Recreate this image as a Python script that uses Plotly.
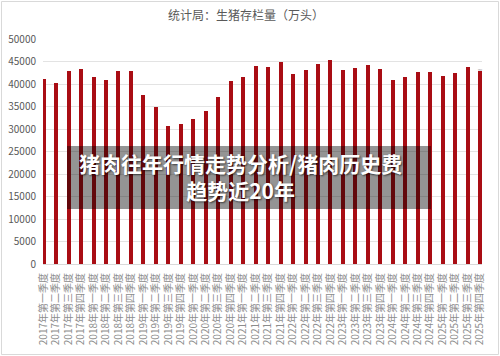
import plotly.graph_objects as go

years = ["2017", "2018", "2019", "2020", "2021", "2022", "2023", "2024", "2025"]
quarters = ["第一季度", "第二季度", "第三季度", "第四季度"]
categories = [f"{y}年{q}" for y in years for q in quarters]

values = [
    41050, 40300, 42820, 43325,
    41480, 40890, 42820, 42817,
    37560, 34810, 30679, 31041,
    32120, 34000, 37039, 40650,
    41595, 43911, 43764, 44922,
    42253, 43057, 44394, 45256,
    43094, 43517, 44229, 43422,
    40850, 41533, 42582, 42743,
    41731, 42447, 43680, 42967,
]

y_ticks = list(range(0, 50001, 5000))
y_ticklabels = [str(v) for v in y_ticks]

title_text = "统计局：生猪存栏量（万头）"
overlay_text = "猪肉往年行情走势分析/猪肉历史费<br>趋势近20年"

FONT = "Noto Sans CJK SC"
L, R, T, B = 43, 18, 39, 92
W, H = 500, 356
pw, ph = W - L - R, H - T - B

def px_x(x):
    return (x - L) / pw

def px_y(y):
    return (H - B - y) / ph

idx = list(range(len(categories)))
labels = [""] * len(values)
labels[-1] = f"{values[-1]}"

fig = go.Figure()
fig.add_trace(go.Bar(
    x=idx, y=values, width=0.32,
    marker=dict(color="#A90D14", line=dict(width=0)),
    text=labels, textposition="outside", cliponaxis=False,
    textfont=dict(family=FONT, size=11, color="#404040"),
))

fig.update_layout(
    width=W, height=H,
    margin=dict(l=L, r=R, t=T, b=B, autoexpand=False),
    paper_bgcolor="white", plot_bgcolor="white",
    showlegend=False,
    bargap=0,
    title=dict(text=title_text, x=px_x(246), xref="paper", xanchor="center",
               y=1 - 16 / H, yanchor="middle",
               font=dict(family=FONT, size=12, color="#595959")),
    xaxis=dict(
        range=[-0.05, 35.15], automargin=False,
        tickmode="array", tickvals=idx, ticktext=categories,
        tickangle=-90, showgrid=False, zeroline=False,
        showline=True, linecolor="#D9D9D9", linewidth=1,
        ticks="", tickfont=dict(family=FONT, size=10, color="#8C8C8C"),
        ticklabelstandoff=4,
    ),
    yaxis=dict(
        range=[0, 50000], automargin=False,
        tickmode="array", tickvals=y_ticks, ticktext=y_ticklabels,
        showgrid=True, gridcolor="#E3E3E3", gridwidth=1,
        zeroline=False, showline=False, ticks="",
        tickfont=dict(family=FONT, size=10, color="#595959"),
        ticklabelstandoff=6,
    ),
)

# outer chart border
fig.add_shape(type="rect", xref="paper", yref="paper",
              x0=px_x(1.5), x1=px_x(W - 1.5), y0=px_y(H - 1.5), y1=px_y(1.5),
              line=dict(color="#D9D9D9", width=1), fillcolor="rgba(0,0,0,0)", layer="below")

# overlay band
fig.add_shape(type="rect", xref="paper", yref="paper",
              x0=px_x(67), x1=px_x(431), y0=px_y(209), y1=px_y(146),
              line=dict(width=0), fillcolor="rgba(0,0,0,0.42)", layer="above")

fig.add_annotation(
    xref="paper", yref="paper", x=px_x(240), y=px_y(176.5),
    text=overlay_text, showarrow=False, xanchor="center", yanchor="middle",
    align="center",
    font=dict(family=FONT, size=21, color="white", weight="bold",
              shadow="1px 1px 2px rgba(0,0,0,0.6)"),
)

fig.write_html("out.html")
